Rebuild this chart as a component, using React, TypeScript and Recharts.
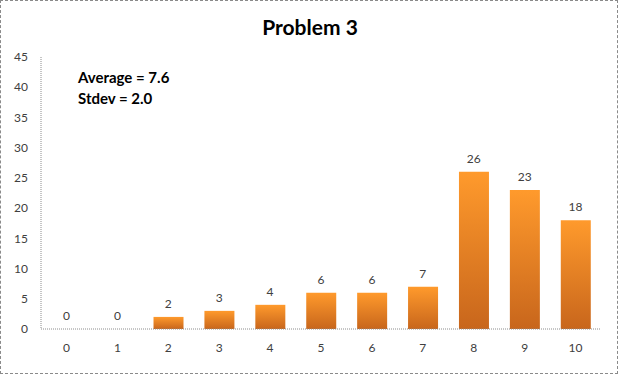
import React from "react";
import { ComposedChart, Bar, Line, XAxis, YAxis } from "recharts";

const scores = ["0", "1", "2", "3", "4", "5", "6", "7", "8", "9", "10"];
const counts = [0, 0, 2, 3, 4, 6, 6, 7, 26, 23, 18];
const yTicks = [0, 5, 10, 15, 20, 25, 30, 35, 40, 45];
const notes = ["Average = 7.6", "Stdev = 2.0"];

const data = scores.map((s, i) => ({ score: s, count: counts[i] }));

const FONT = "Lato, 'Open Sans', sans-serif";

// labels drawn from an invisible line so the zero bars get theirs too
const renderLabel = (props: any) => {
  const { x, y, value } = props;
  return (
    <text
      x={Number(x)}
      y={Number(y) - 9}
      textAnchor="middle"
      fill="#404040"
      fontSize={12}
      fontFamily={FONT}
    >
      {value}
    </text>
  );
};

export default function App() {
  return (
    <div
      style={{
        position: "absolute",
        left: 0,
        top: 0,
        width: 618,
        height: 374,
        background: "#fff",
        fontFamily: FONT,
      }}
    >
      <div
        style={{
          position: "absolute",
          inset: 0,
          border: "1px dashed #8a8a8a",
          boxSizing: "border-box",
          pointerEvents: "none",
        }}
      />
      <div
        style={{
          position: "absolute",
          top: 14,
          left: 0,
          width: 620,
          textAlign: "center",
          fontSize: 21,
          fontWeight: 700,
          color: "#000",
        }}
      >
        Problem 3
      </div>
      <div
        style={{
          position: "absolute",
          top: 67,
          left: 78,
          fontSize: 15,
          fontWeight: 700,
          lineHeight: "21px",
          color: "#000",
        }}
      >
        {notes.map((n) => (
          <div key={n}>{n}</div>
        ))}
      </div>
      <ComposedChart
        width={618}
        height={374}
        data={data}
        margin={{ top: 57, right: 17, bottom: 0, left: 0 }}
        barCategoryGap="21%"
      >
        <defs>
          <linearGradient id="barFill" x1="0" y1="0" x2="0" y2="1">
            <stop offset="0%" stopColor="#ff9a2c" />
            <stop offset="100%" stopColor="#c8661c" />
          </linearGradient>
        </defs>
        <XAxis
          dataKey="score"
          height={45}
          axisLine={{ stroke: "#8c8c8c", strokeDasharray: "1 1" }}
          tickLine={false}
          tickSize={6}
          tickMargin={8}
          tick={{ fill: "#404040", fontSize: 12, fontFamily: FONT }}
        />
        <YAxis
          width={41}
          domain={[0, 45]}
          ticks={yTicks}
          interval={0}
          axisLine={{ stroke: "#8c8c8c", strokeDasharray: "1 1" }}
          tickLine={false}
          tickSize={6}
          tickMargin={7}
          tick={{ fill: "#404040", fontSize: 12, fontFamily: FONT }}
        />
        <Bar dataKey="count" fill="url(#barFill)" isAnimationActive={false} />
        <Line
          dataKey="count"
          stroke="none"
          dot={false}
          activeDot={false}
          isAnimationActive={false}
          label={renderLabel}
        />
      </ComposedChart>
    </div>
  );
}
